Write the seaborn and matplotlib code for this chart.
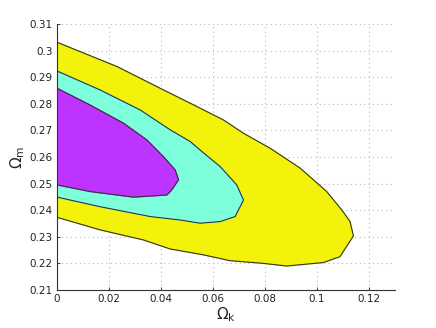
#confidence contours in the (Omega_k, Omega_m) plane
import numpy as np
import pandas as pd
import matplotlib
matplotlib.use('Agg')
import matplotlib.pyplot as plt
import seaborn as sns

#outer (yellow) contour, top edge then bottom edge back to x=0
outer_x = [0, 0.0230, 0.0409, 0.0512, 0.0640, 0.0717, 0.0819, 0.0935, 0.1037, 0.1095, 0.1127, 0.1140,
           0.1088, 0.1024, 0.0883, 0.0793, 0.0665, 0.0563, 0.0435, 0.0332, 0.0165, 0]
outer_y = [0.3031, 0.2940, 0.2852, 0.2802, 0.2739, 0.2689, 0.2633, 0.2558, 0.2470, 0.2401, 0.2357, 0.2303,
           0.2225, 0.2203, 0.2190, 0.2200, 0.2210, 0.2232, 0.2254, 0.2288, 0.2326, 0.2373]

#middle (cyan) contour
mid_x = [0, 0.0165, 0.0319, 0.0435, 0.0512, 0.0550, 0.0627, 0.0691, 0.0717,
         0.0685, 0.0627, 0.0550, 0.0473, 0.0358, 0.0165, 0]
mid_y = [0.2923, 0.2852, 0.2777, 0.2702, 0.2658, 0.2626, 0.2564, 0.2495, 0.2438,
         0.2376, 0.2357, 0.2351, 0.2363, 0.2376, 0.2413, 0.2449]

#inner (purple) contour
inner_x = [0, 0.0127, 0.0255, 0.0345, 0.0409, 0.0454, 0.0467, 0.0441, 0.0422, 0.0294, 0.0127, 0]
inner_y = [0.2858, 0.2795, 0.2727, 0.2664, 0.2601, 0.2551, 0.2514, 0.2476, 0.2457, 0.2449, 0.2470, 0.2495]

levels = [('outer', outer_x, outer_y, '#f2f20a'),
          ('mid', mid_x, mid_y, '#7dffdc'),
          ('inner', inner_x, inner_y, '#bd33ff')]

xticks = [0, 0.02, 0.04, 0.06, 0.08, 0.1, 0.12]
xticklabels = ['0', '0.02', '0.04', '0.06', '0.08', '0.1', '0.12']
yticks = [0.21, 0.22, 0.23, 0.24, 0.25, 0.26, 0.27, 0.28, 0.29, 0.3, 0.31]
yticklabels = ['0.21', '0.22', '0.23', '0.24', '0.25', '0.26', '0.27', '0.28', '0.29', '0.3', '0.31']

sns.set_style('white')
plt.rcParams['font.family'] = ['DejaVu Sans']

fig = plt.figure(figsize=(4.36, 3.28), dpi=100)
ax = fig.add_axes([0.131, 0.116, 0.775, 0.811])

for name, xs, ys, col in levels:
    ax.fill(xs, ys, color=col, zorder=2)
    df = pd.DataFrame({'x': xs, 'y': ys})
    sns.lineplot(data=df, x='x', y='y', sort=False, estimator=None, color='#333333',
                 linewidth=0.8, ax=ax, zorder=3)

ax.set_xlim(0, 0.13)
ax.set_ylim(0.21, 0.31)
ax.set_xticks(xticks)
ax.set_xticklabels(xticklabels, fontsize=7.5)
ax.set_yticks(yticks)
ax.set_yticklabels(yticklabels, fontsize=7.5)
ax.grid(True, ls=(0, (1, 3)), color='#b8b8b8', lw=0.8, zorder=0)
ax.set_axisbelow(True)
for s in ['top', 'right']:
    ax.spines[s].set_visible(False)
for s in ['left', 'bottom']:
    ax.spines[s].set_color('#333333')
    ax.spines[s].set_linewidth(0.8)
    ax.spines[s].set_zorder(4)
ax.tick_params(direction='in', length=2.5, width=0.6, colors='#222222', pad=3, bottom=True, left=True)
ax.set_xlabel(r'$\Omega_\mathrm{k}$', fontsize=11, labelpad=1)
ax.set_ylabel(r'$\Omega_\mathrm{m}$', fontsize=11, labelpad=2)

fig.savefig('out.png', dpi=100)
